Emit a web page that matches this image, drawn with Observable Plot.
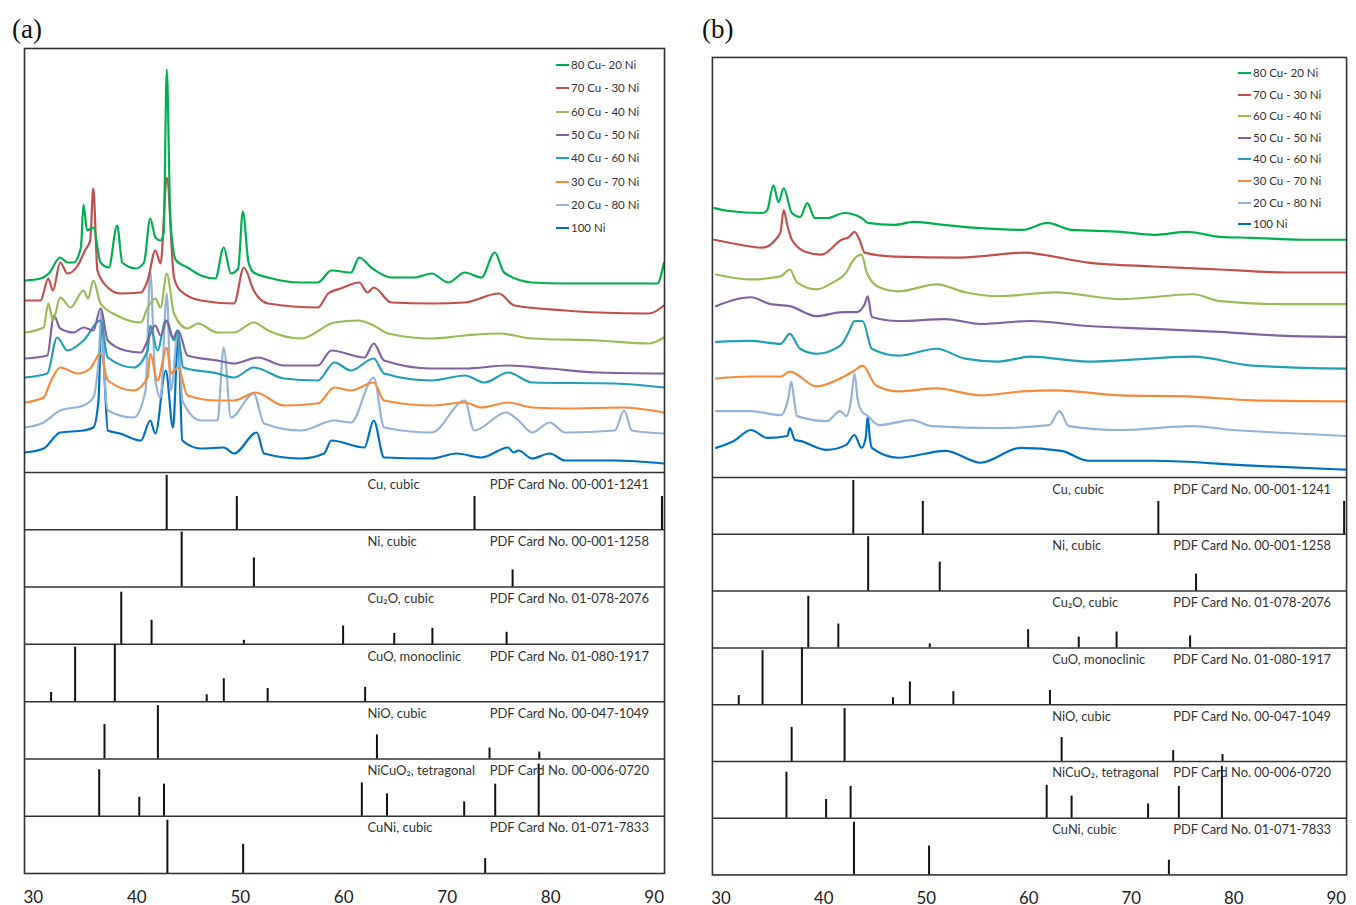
<!DOCTYPE html>
<html><head><meta charset="utf-8">
<script src="https://cdn.jsdelivr.net/npm/d3@7"></script>
<script src="https://cdn.jsdelivr.net/npm/@observablehq/plot@0.6"></script>
<style>
body{margin:0;background:#fff;width:1356px;height:905px;position:relative;overflow:hidden;font-family:Lato,sans-serif}
.panel{position:absolute}
.ptitle{position:absolute;font-family:"Liberation Serif",serif;font-size:27px;line-height:27px;color:#111}
.lg{position:absolute;font-family:Lato,sans-serif;font-size:11.5px;line-height:14px;color:#333;white-space:nowrap}
.lg span{display:inline-block;width:13px;height:2px;vertical-align:middle;margin-right:2px;position:relative;top:-1px}
</style></head><body>
<div class="ptitle" style="left:12px;top:16px">(a)</div>
<div class="ptitle" style="left:702px;top:16px">(b)</div>
<div id="pa" class="panel" style="left:14px;top:43px"></div>
<div id="pb" class="panel" style="left:702px;top:52px"></div>
<div id="lga"></div><div id="lgb"></div>
<script>
// ---------- series ----------
const seriesNames = ["80 Cu- 20 Ni","70 Cu - 30 Ni","60 Cu - 40 Ni","50 Cu - 50 Ni","40 Cu - 60 Ni","30 Cu - 70 Ni","20 Cu - 80 Ni","100 Ni"];
const seriesColors = ["#00B050","#C0504D","#9BBB59","#8064A2","#23A0B5","#F58A3C","#95B3D7","#0070C0"];
const xTicks = [30,40,50,60,70,80,90];

// panel (a): [2θ, intensity a.u.]
const a80 = [[29.2,192],[30.7,194],[31.5,199],[32.6,215],[33.3,210],[33.9,210],[34.6,225],[34.85,268],[35.2,242],[35.8,245],[36.5,210],[37.3,205],[38.1,247],[38.6,210],[39.9,204],[40.7,210],[41.3,254],[41.8,235],[42.3,232],[42.6,240],[42.9,403],[43.25,252],[43.8,212],[44.9,205],[46.2,197],[47.6,194],[48.4,225],[49.1,199],[49.8,204],[50.25,261],[50.8,210],[51.3,200],[52.7,195],[55.9,190],[57.5,190],[58.8,202],[60.7,200],[61.5,215],[62.65,205],[64.6,195],[66.8,195],[68.5,199],[70.1,190],[71.7,200],[73.3,195],[74.6,220],[75.5,200],[78.2,190],[81.4,189],[84.9,189],[87.85,189],[90.3,189],[90.95,210]];
const a70 = [[29.2,172],[30.7,172],[31.45,194],[31.9,182],[32.6,210],[33.3,199],[34.3,207],[35.0,222],[35.5,232],[35.8,284],[36.2,202],[37.2,185],[38.4,179],[40.4,180],[41.05,192],[41.8,222],[42.3,209],[42.9,295],[43.6,195],[44.2,182],[46.2,172],[49.4,169],[50.35,205],[51.3,182],[52.7,169],[57.5,165],[58.5,179],[59.7,184],[61.5,190],[62.3,180],[62.9,185],[64.6,170],[68.5,169],[71.7,170],[75.0,179],[76.5,167],[81.4,162],[84.65,160],[89.5,159],[90.95,167]];
const a60 = [[29.2,140],[31.0,145],[31.45,169],[31.9,152],[32.6,175],[33.6,165],[34.85,182],[35.3,174],[35.8,192],[36.5,169],[38.1,157],[40.4,150],[41.05,165],[41.8,174],[42.3,165],[42.9,199],[43.6,159],[44.9,144],[45.9,149],[47.8,140],[49.4,140],[51.3,150],[52.7,142],[55.9,134],[59.1,150],[61.4,152],[62.9,147],[64.3,139],[68.5,134],[71.7,137],[75.0,139],[78.2,134],[84.65,132],[89.5,129],[90.95,135]];
const a50 = [[29.2,114],[31.35,117],[32.0,157],[32.6,144],[33.9,140],[34.85,145],[35.8,142],[36.5,164],[37.2,132],[38.9,122],[40.4,120],[41.05,132],[41.8,147],[42.3,137],[42.9,152],[43.5,135],[44.0,142],[44.9,117],[47.8,112],[49.4,109],[51.7,115],[54.2,107],[57.5,107],[58.8,122],[62.0,115],[62.9,129],[63.9,112],[68.5,104],[71.7,104],[75.9,107],[79.8,104],[84.65,100],[90.95,99]];
const a40 = [[29.2,95],[31.35,99],[32.3,135],[33.3,122],[34.85,132],[36.5,152],[37.2,115],[39.7,105],[41.05,122],[41.3,147],[42.0,122],[42.8,152],[43.6,132],[43.9,142],[44.5,105],[47.8,99],[49.4,95],[51.3,105],[54.2,94],[57.5,92],[59.1,110],[60.7,102],[62.9,114],[63.9,99],[68.5,92],[71.7,97],[73.6,90],[75.9,100],[78.2,90],[86.2,89],[90.95,85]];
const a30 = [[29.2,70],[31.0,75],[31.65,90],[32.6,105],[34.3,99],[35.5,104],[36.5,119],[37.2,92],[39.7,82],[41.05,95],[41.3,119],[42.0,92],[42.9,125],[43.3,99],[44.0,105],[44.9,77],[47.8,72],[49.4,72],[51.5,80],[54.2,67],[57.5,69],[59.1,85],[60.7,82],[62.9,90],[63.9,72],[68.5,67],[71.7,70],[73.3,65],[75.9,70],[78.2,65],[81.4,64],[86.9,65],[90.95,60]];
const a20 = [[29.2,45],[31.0,50],[32.6,62],[34.85,67],[35.8,75],[36.3,112],[36.6,162],[36.9,92],[37.2,62],[39.7,55],[40.85,82],[41.3,202],[41.8,92],[42.3,75],[42.9,179],[43.3,82],[44.0,142],[44.4,72],[46.2,52],[47.8,52],[48.4,125],[49.1,55],[51.3,79],[52.3,49],[55.9,42],[59.1,52],[60.7,50],[62.9,95],[63.9,45],[68.5,40],[71.7,72],[72.6,42],[75.7,60],[76.9,52],[78.2,40],[79.9,50],[81.4,40],[86.2,42],[87.1,62],[87.85,42],[90.95,39]];
const a100 = [[29.2,20],[31.0,24],[32.6,40],[34.85,42],[35.8,45],[36.3,72],[36.6,157],[36.9,92],[37.2,42],[38.4,39],[40.4,32],[41.3,52],[41.8,39],[42.8,102],[43.5,45],[44.0,137],[44.4,32],[46.2,24],[48.4,25],[49.4,19],[51.6,40],[52.3,19],[55.9,14],[58.1,19],[58.8,32],[62.0,25],[62.9,52],[63.9,15],[68.5,14],[70.9,19],[73.3,15],[75.9,25],[76.4,20],[76.9,22],[78.2,14],[79.9,19],[81.4,12],[86.2,12],[90.95,9]];

// panel (b): [2θ, intensity a.u.]
const b80 = [[29.33,272],[30.8,269],[34.05,267],[34.5,270],[35.1,295],[35.6,278],[36.1,292],[36.9,267],[37.7,263],[38.4,277],[39.15,262],[40.4,262],[42.0,267],[43.7,262],[44.3,257],[46.9,255],[48.8,258],[51.7,255],[54.9,252],[59.4,250],[61.8,257],[64.2,250],[69.0,248],[72.2,245],[75.5,248],[78.65,243],[81.8,242],[86.6,240],[90.9,240]];
const b70 = [[29.33,240],[30.8,237],[34.05,232],[35.3,240],[35.8,248],[36.1,270],[36.45,255],[36.9,240],[38.2,228],[39.8,225],[41.75,240],[42.5,243],[43.0,248],[43.5,240],[44.0,227],[46.9,223],[53.3,222],[59.7,227],[61.3,225],[65.8,217],[72.2,213],[78.65,210],[85.1,207],[90.9,207]];
const b60 = [[29.5,205],[32.9,200],[35.8,203],[36.7,210],[37.4,197],[39.3,190],[40.9,197],[42.2,207],[42.8,218],[43.2,223],[43.7,225],[44.2,207],[45.4,192],[47.3,188],[51.0,195],[53.8,187],[57.0,183],[62.6,187],[69.0,180],[76.05,185],[78.65,178],[85.1,175],[90.9,175]];
const b50 = [[29.5,173],[32.9,182],[34.8,175],[36.7,173],[39.3,163],[41.85,167],[43.2,167],[44.0,175],[44.3,183],[44.7,162],[47.3,158],[51.9,160],[55.3,155],[60.15,158],[65.8,153],[72.2,150],[78.65,147],[85.1,143],[90.9,142]];
const b40 = [[29.5,137],[32.9,138],[35.8,135],[36.7,145],[37.7,130],[39.3,125],[41.6,133],[42.5,148],[43.0,158],[43.8,158],[44.7,130],[47.3,123],[51.0,130],[53.8,120],[57.0,117],[60.15,122],[65.8,117],[76.05,122],[81.8,113],[90.9,110]];
const b30 = [[29.5,100],[32.9,102],[35.8,102],[36.7,107],[39.3,92],[41.6,100],[43.0,108],[43.8,113],[45.1,93],[47.3,87],[51.0,90],[55.3,83],[59.4,87],[62.6,88],[69.0,83],[75.5,82],[81.8,78],[90.9,77]];
const b20 = [[29.5,67],[32.9,67],[35.8,63],[36.55,80],[36.85,97],[37.1,80],[37.4,62],[40.3,57],[41.6,67],[42.2,62],[42.7,80],[43.0,105],[43.3,80],[43.7,67],[44.2,63],[45.4,53],[48.6,58],[50.5,52],[57.0,50],[62.0,53],[63.0,67],[63.9,52],[69.0,48],[75.95,52],[79.9,48],[85.1,45],[90.9,42]];
const b100 = [[29.5,30],[31.25,37],[32.9,48],[34.5,40],[36.45,42],[36.7,50],[37.2,38],[37.7,37],[40.3,28],[42.2,33],[43.0,43],[43.7,30],[44.1,40],[44.3,62],[44.5,40],[44.7,30],[47.3,20],[51.9,27],[55.3,15],[59.2,30],[63.2,27],[65.8,17],[72.2,17],[81.8,12],[90.9,8]];

// ---------- reference patterns: [2θ, relative intensity %] ----------
const phaseNames = ["Cu, cubic","Ni, cubic","Cu\u2082O, cubic","CuO, monoclinic","NiO, cubic","NiCuO\u2082, tetragonal","CuNi, cubic"];
const pdfCards = ["PDF Card No. 00-001-1241","PDF Card No. 00-001-1258","PDF Card No. 01-078-2076","PDF Card No. 01-080-1917","PDF Card No. 00-047-1049","PDF Card No. 00-006-0720","PDF Card No. 01-071-7833"];
const cuPeaks = [[42.89,95],[49.67,58],[72.64,58],[90.76,58]];
const niPeaks = [[44.34,96],[51.32,51],[76.32,30]];
const cu2oPeaks = [[38.50,91],[41.43,42],[50.35,7],[59.94,32],[64.88,19],[68.57,28],[75.74,21]];
const cuoPeaks = [[31.72,16],[34.04,95],[37.88,100],[46.76,12],[48.41,40],[52.65,23],[62.07,25]];
const nioPeaks = [[36.88,60],[42.04,93],[63.21,42],[74.09,19],[78.90,12]];
const nicuo2Peaks = [[36.37,81],[40.24,33],[42.63,56],[61.75,58],[64.18,39],[71.64,25],[74.64,56],[78.84,91]];
const cuniPeaks = [[42.96,93],[50.28,51],[73.67,26]];
const phasePeaks = [cuPeaks,niPeaks,cu2oPeaks,cuoPeaks,nioPeaks,nicuo2Peaks,cuniPeaks];

function build(traces){
  const TOP = 424, BOT = 401, B = BOT/7;
  const bandTops = d3.range(7).map(i => -i*B);
  const sticks = phasePeaks.flatMap((arr,i) => arr.map(([x,h]) => ({x, y1:-(i+1)*B, y2:-(i+1)*B + h/100*B})));
  const lines = traces.map((arr,k) => ({arr,k})).reverse().map(({arr,k}) =>
    Plot.line(arr, {x:d=>d[0], y:d=>d[1], curve:"monotone-x", stroke:seriesColors[k], strokeWidth:2.2, strokeLinejoin:"round"}));
  return Plot.plot({
    width:660, height:865, marginLeft:10, marginRight:10, marginTop:5, marginBottom:35,
    style:{fontFamily:"Lato, sans-serif", fontSize:"17px", color:"#222", background:"transparent"},
    x:{domain:[29.15,91.0], label:null},
    y:{domain:[-BOT,TOP], axis:null},
    marks:[
      ...lines,
      Plot.ruleY(bandTops, {stroke:"#333", strokeWidth:1.5}),
      Plot.ruleX(sticks, {x:"x", y1:"y1", y2:"y2", stroke:"#111", strokeWidth:2}),
      Plot.text(phaseNames, {x:62.3, y:(d,i)=>bandTops[i]-12, text:d=>d, textAnchor:"start", fontSize:13, fill:"#333"}),
      Plot.text(pdfCards, {x:74.1, y:(d,i)=>bandTops[i]-12, text:d=>d, textAnchor:"start", fontSize:13, fill:"#333"}),
      Plot.frame({stroke:"#333", strokeWidth:1.6}),
      Plot.axisX({ticks:xTicks, tickSize:0, tickPadding:17, fontSize:17, label:null})
    ]
  });
}

document.getElementById("pa").append(build([a80,a70,a60,a50,a40,a30,a20,a100]));
document.getElementById("pb").append(build([b80,b70,b60,b50,b40,b30,b20,b100]));

function legend(id, lineLeft, y0, dy){
  const el = document.getElementById(id);
  seriesNames.forEach((name,i) => {
    const d = document.createElement("div");
    d.className = "lg";
    d.style.left = lineLeft + "px";
    d.style.top = (y0 + i*dy - 7) + "px";
    d.innerHTML = `<span style="background:${seriesColors[i]}"></span>${name}`;
    el.append(d);
  });
}
legend("lga", 556, 65, 23.3);
legend("lgb", 1238, 73, 21.6);
</script>
</body></html>
